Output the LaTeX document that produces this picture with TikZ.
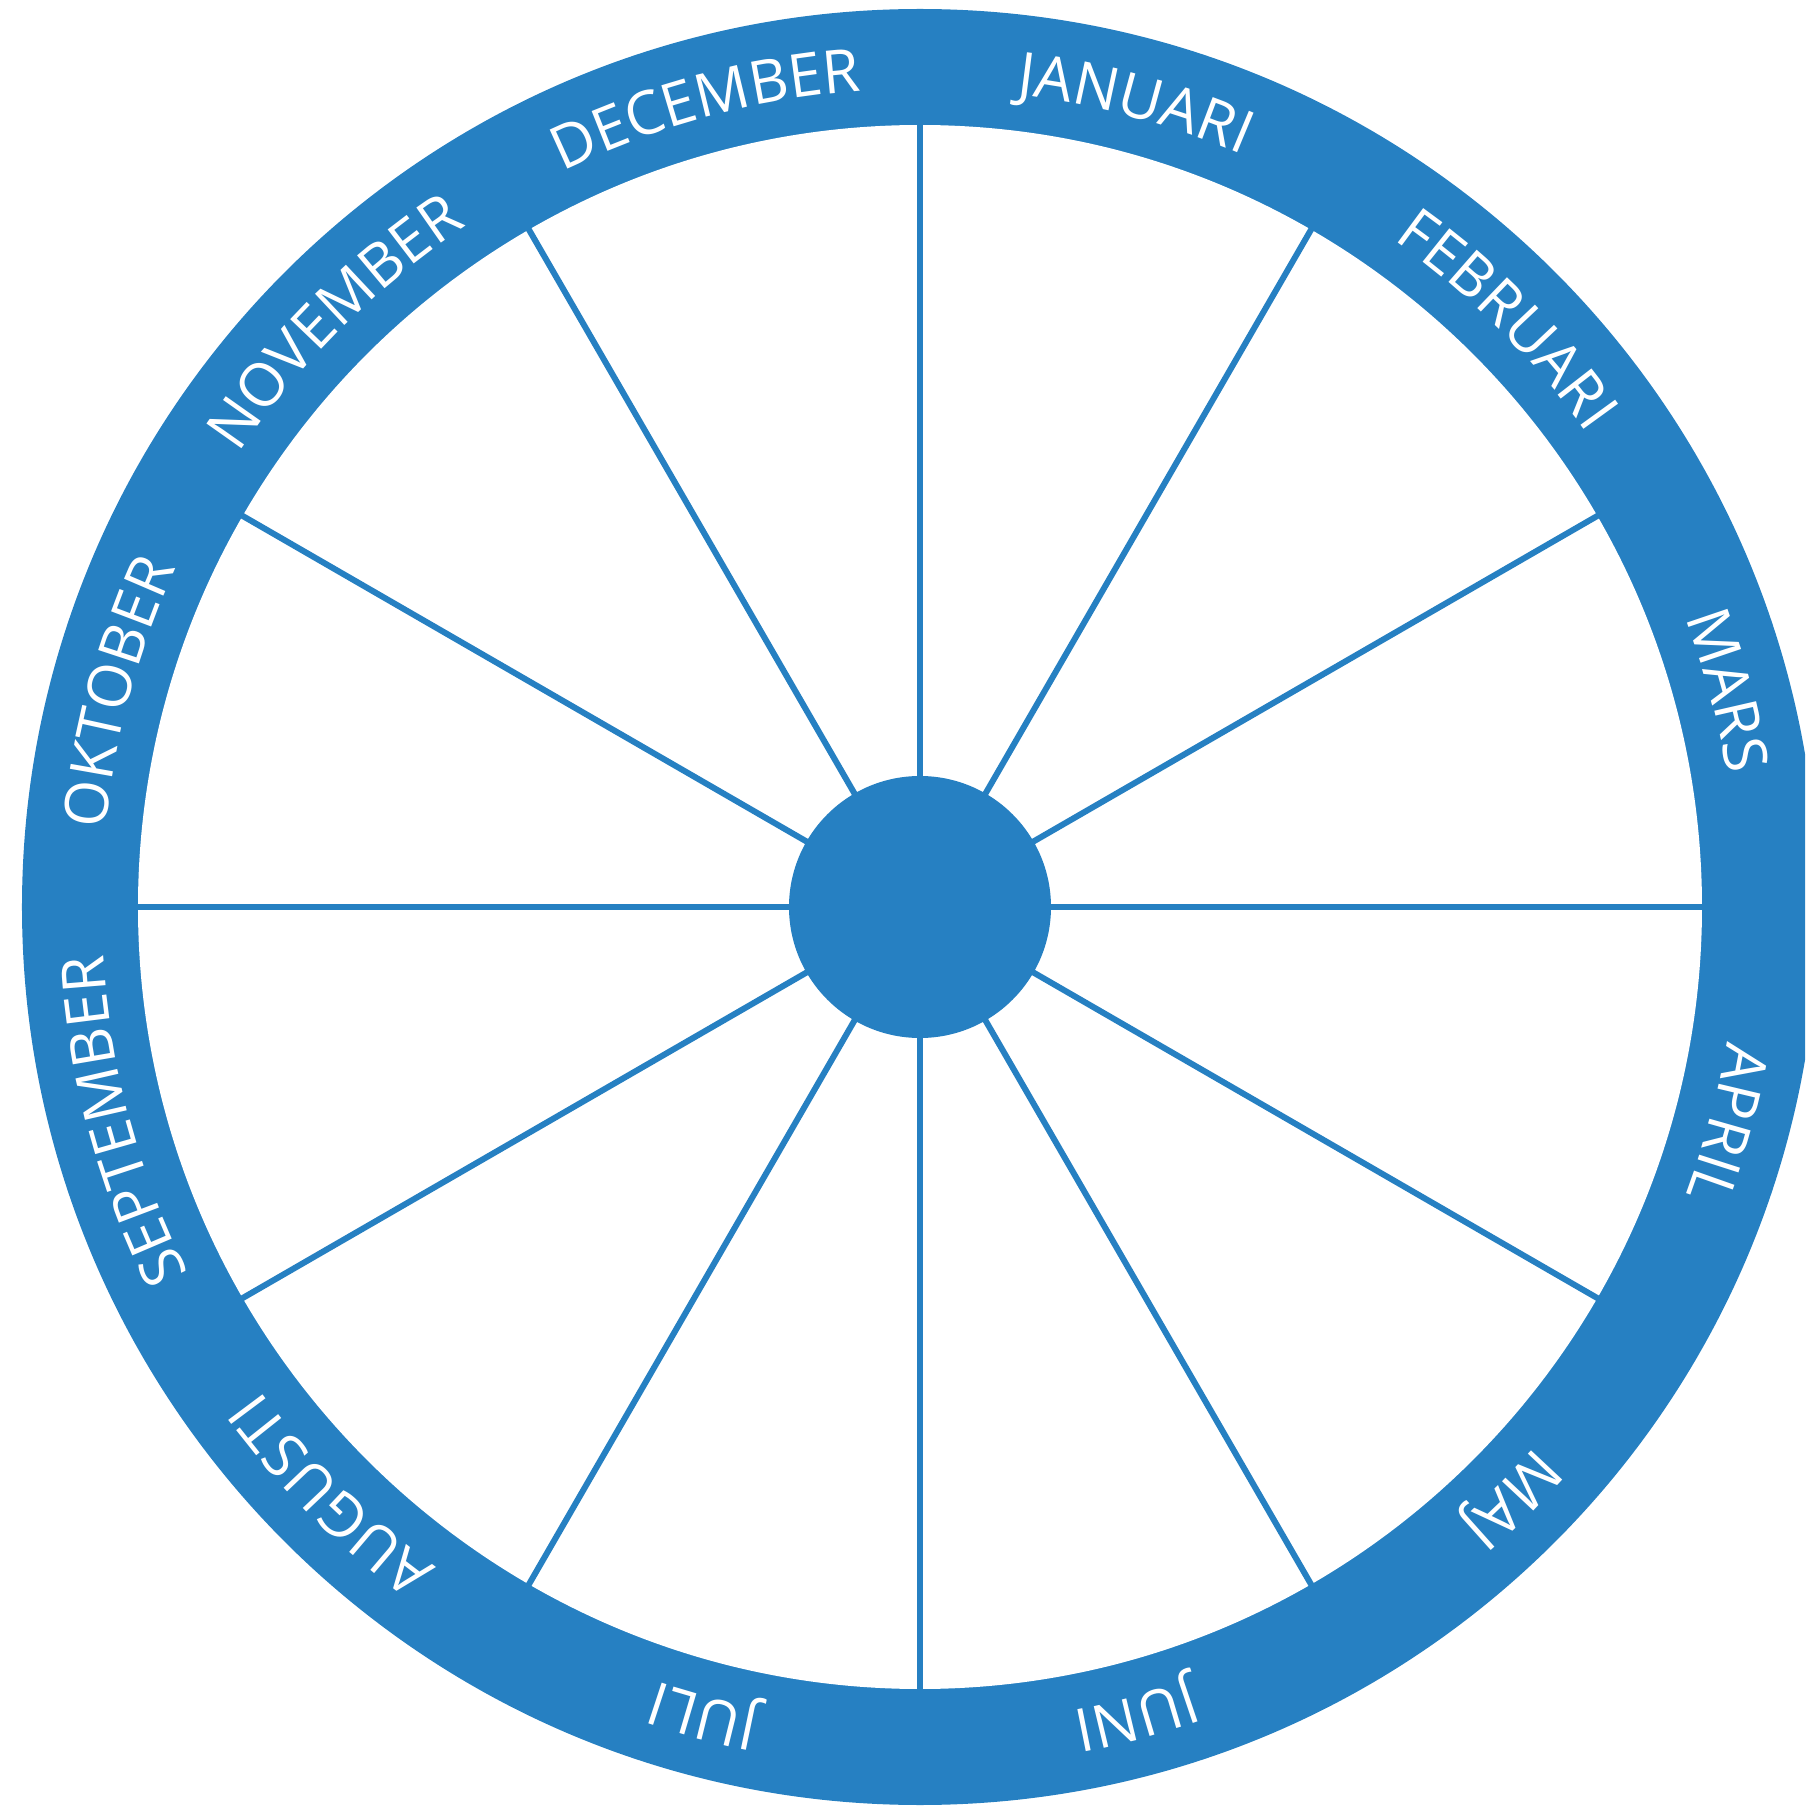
\documentclass[tikz,border=0pt]{standalone}
\usepackage{fontspec}
\usetikzlibrary{decorations.text}
\newfontfamily\monthfont{Open Sans}
\definecolor{wheelblue}{RGB}{38,128,194}
\tikzset{
  spoke/.style={draw=wheelblue, line width=6pt},
  monthtext/.style={decorate, decoration={text along path, text align=center, text color=white}}
}
\newcommand{\textr}{818}
\newcommand{\monthlabel}[2]{%
  \path[monthtext, decoration={text={|\monthfont\fontsize{60}{72}\selectfont|#2}}]
    (#1:\textr) arc[start angle=#1, delta angle=-30, radius=\textr];}
\begin{document}
\begin{tikzpicture}[x=1pt,y=1pt]
    \useasboundingbox (-920,-900) rectangle (885,907);
    \clip (-920,-900) rectangle (885,907);

    \fill[wheelblue] (0,0) circle[radius=898];
    \fill[white] (0,0) circle[radius=782];
    \foreach \a in {0,30,...,330}
        \draw[spoke] (\a:120) -- (\a:785);
    \fill[wheelblue] (0,0) circle[radius=131];

    \monthlabel{90}{JANUARI}
    \monthlabel{60}{FEBRUARI}
    \monthlabel{30}{MARS}
    \monthlabel{0}{APRIL}
    \monthlabel{-30}{MAJ}
    \monthlabel{-60}{JUNI}
    \monthlabel{-90}{JULI}
    \monthlabel{-120}{AUGUSTI}
    \monthlabel{-150}{SEPTEMBER}
    \monthlabel{180}{OKTOBER}
    \monthlabel{150}{NOVEMBER}
    \monthlabel{120}{DECEMBER}
\end{tikzpicture}
\end{document}
